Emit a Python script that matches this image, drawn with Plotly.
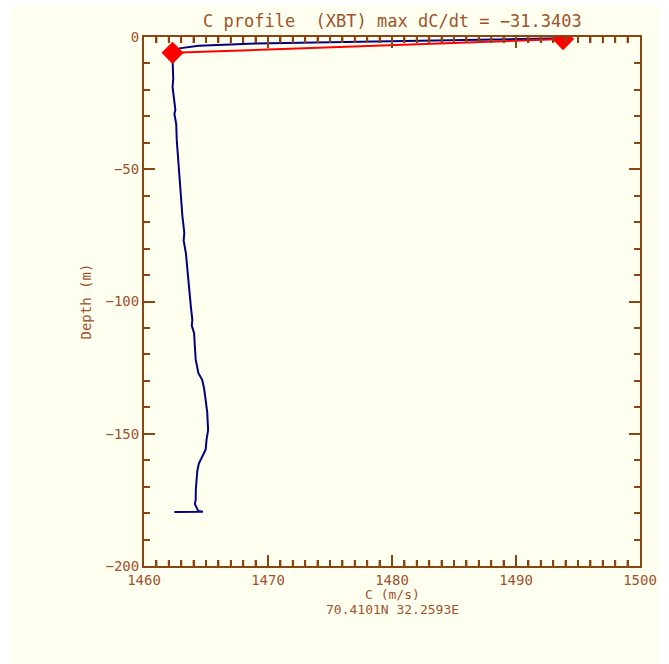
import plotly.graph_objects as go

# Sound-speed profile derived from the XBT cast
c_xbt = [1493.7, 1491.0, 1489.5, 1486.6, 1483.0, 1479.6, 1475.3, 1471.0, 1469.0,
         1467.0, 1464.4, 1462.85, 1462.4, 1462.3, 1462.32, 1462.36, 1462.3, 1462.38,
         1462.45, 1462.53, 1462.45, 1462.6, 1462.64, 1462.75, 1462.9, 1463.0,
         1463.1, 1463.25, 1463.2, 1463.38, 1463.5, 1463.59, 1463.7, 1463.78,
         1463.9, 1463.85, 1464.04, 1464.1, 1464.17, 1464.3, 1464.38, 1464.7,
         1464.85, 1464.97, 1465.1, 1465.17, 1465.05, 1464.97, 1464.7, 1464.43,
         1464.3, 1464.22, 1464.18, 1464.17, 1464.1, 1464.3, 1464.38, 1464.75,
         1462.45]
depth_xbt = [-0.5, -0.7, -0.9, -1.2, -1.45, -1.7, -2.1, -2.4, -2.5,
             -2.8, -3.3, -4.3, -5.5, -8.0, -12.0, -16.0, -18.8, -22.0,
             -25.0, -27.6, -29.0, -33.0, -38.9, -46.0, -54.0, -61.0,
             -67.9, -74.0, -77.0, -81.8, -87.0, -93.1, -98.0, -102.0,
             -107.0, -109.0, -112.0, -117.0, -122.0, -125.0, -127.0, -129.7,
             -133.0, -137.2, -142.0, -148.6, -152.0, -156.0, -158.7, -161.2,
             -164.0, -167.5, -171.0, -175.0, -176.5, -178.5, -179.2, -179.5,
             -179.6]

# Layer of maximum dC/dt
c_grad = [1462.3, 1493.8]
depth_grad = [-6.0, -0.8]

title_text = "C profile  (XBT) max dC/dt = \u221231.3403"
x_label = "C (m/s)"
position_text = "70.4101N 32.2593E"
y_label = "Depth (m)"

x_range = [1460, 1500]
y_range = [-200, 0]
x_minor_step = 1

AXIS = "#8B4513"
TEXT = "#A0522D"
CREAM = "#FFFFF0"
FONT = "DejaVu Sans Mono"

W, H = 669, 664
L, R, T, B = 144, 20, 37, 98
PLOT_H = H - T - B
MINOR_LEN = 6

fig = go.Figure()

# Hidden trace that anchors the minor-tick axes
fig.add_trace(go.Scatter(x=x_range, y=y_range, xaxis="x2", yaxis="y2",
                         mode="none", hoverinfo="skip", showlegend=False))
fig.add_trace(go.Scatter(x=c_xbt, y=depth_xbt, mode="lines",
                         line=dict(color="#000080", width=2), showlegend=False))
fig.add_trace(go.Scatter(x=c_grad, y=depth_grad, mode="lines+markers",
                         line=dict(color="#FF0000", width=2),
                         marker=dict(symbol="diamond", size=17, color="#FF0000"),
                         showlegend=False))

axis_common = dict(
    showgrid=False, zeroline=False, showline=True, linecolor=AXIS, linewidth=2,
    mirror="ticks", ticks="inside", tickcolor=AXIS, tickwidth=2,
)

layout_axes = dict(
    xaxis=dict(range=x_range, dtick=10, ticklen=11,
               tickfont=dict(family=FONT, size=14, color=TEXT), **axis_common),
    yaxis=dict(range=y_range, dtick=50, ticklen=11,
               tickfont=dict(family=FONT, size=14, color=TEXT), **axis_common),
    xaxis2=dict(range=x_range, overlaying="x", anchor="y", side="bottom",
                dtick=x_minor_step, ticklen=MINOR_LEN, showticklabels=False,
                **axis_common),
    yaxis2=dict(range=y_range, overlaying="y", anchor="x", side="left",
                dtick=10, ticklen=MINOR_LEN, showticklabels=False, **axis_common),
)

fig.add_shape(type="rect", xref="paper", yref="paper", layer="below",
              x0=-(L - 8) / (W - L - R), x1=(W - L) / (W - L - R),
              y0=-B / PLOT_H, y1=(PLOT_H + T - 6) / PLOT_H,
              fillcolor=CREAM, line=dict(width=0))

# Minor ticks along the bottom and top frame edges
for c in range(x_range[0] + x_minor_step, x_range[1], x_minor_step):
    for y0, y1 in ((0, MINOR_LEN / PLOT_H), (1 - MINOR_LEN / PLOT_H, 1)):
        fig.add_shape(type="line", xref="x", yref="paper", x0=c, x1=c,
                      y0=y0, y1=y1, layer="above",
                      line=dict(color=AXIS, width=2))

fig.add_annotation(text=title_text, xref="paper", yref="paper", x=0.5, y=1,
                   yanchor="bottom", yshift=4, showarrow=False,
                   font=dict(family=FONT, size=17, color=TEXT))
fig.add_annotation(text=x_label, xref="paper", yref="paper", x=0.5, y=0,
                   yanchor="middle", yshift=-28, showarrow=False,
                   font=dict(family=FONT, size=13, color=TEXT))
fig.add_annotation(text=position_text, xref="paper", yref="paper", x=0.5, y=0,
                   yanchor="middle", yshift=-43, showarrow=False,
                   font=dict(family=FONT, size=13, color=TEXT))
fig.add_annotation(text=y_label, xref="paper", yref="paper", x=0, y=0.5,
                   xanchor="center", xshift=-59, textangle=-90, showarrow=False,
                   font=dict(family=FONT, size=14, color=TEXT))

fig.update_layout(width=W, height=H, autosize=False, showlegend=False,
                  margin=dict(l=L, r=R, t=T, b=B, pad=0),
                  paper_bgcolor="white", plot_bgcolor=CREAM, **layout_axes)

fig.write_html("out.html")
